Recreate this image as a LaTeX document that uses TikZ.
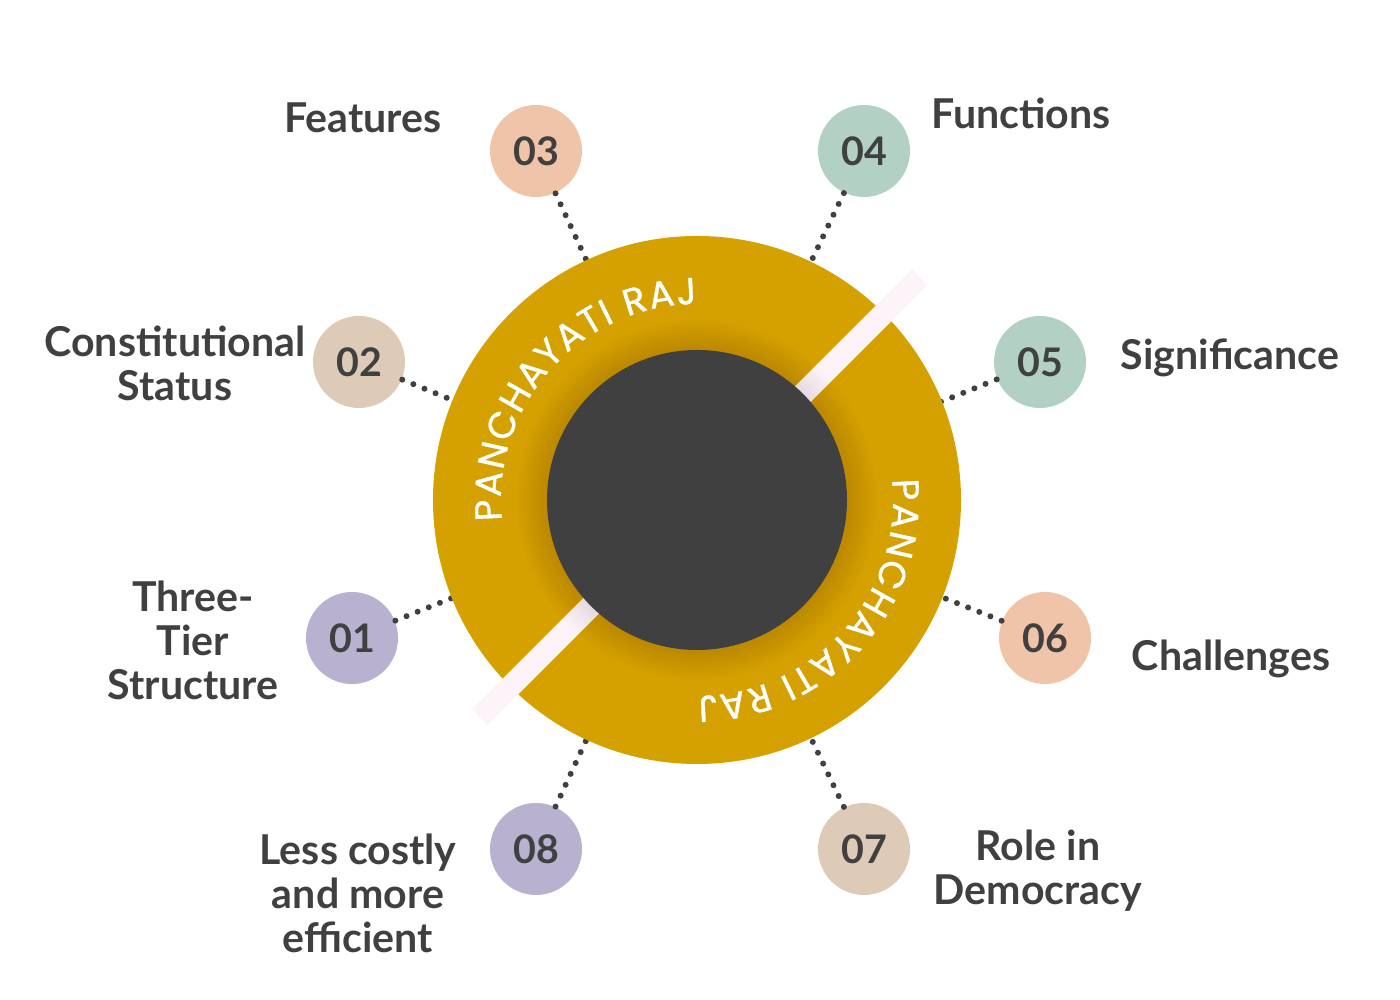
\documentclass[tikz,border=0pt]{standalone}
\usepackage{fontspec}
\setmainfont{Lato}
\newfontfamily\ringfont{Poppins}[FakeBold=0.9]
\usetikzlibrary{calc,decorations.text}
\definecolor{gold}{HTML}{D4A100}
\definecolor{ink}{HTML}{404040}
\definecolor{peach}{HTML}{F0C4A8}
\definecolor{sage}{HTML}{B2D0C4}
\definecolor{beige}{HTML}{DDCBB8}
\definecolor{lilac}{HTML}{B8B2D0}
\definecolor{stripe}{HTML}{FDF3F8}
\tikzset{
  num/.style={circle, minimum size=0.92cm, inner sep=0pt, text=ink, font=\bfseries\fontsize{11.2}{12}\selectfont},
  lbl/.style={text=ink, align=center, font=\bfseries\fontsize{11.7}{12.5}\selectfont},
  dotline/.style={ink, line width=0.06cm, line cap=round, dash pattern=on 0pt off 0.12cm},
  ringtext/.style={decorate, decoration={text along path, text color=white, text align={fit to path},
    text={|\ringfont\fontsize{10.6}{12}\selectfont|#1}}}
}
\begin{document}
\begin{tikzpicture}
			%%%%% START %%%%%
			\useasboundingbox[fill=white] (0, 0) rectangle (14, 10);
			\coordinate (ctr) at (6.97, 5.00);
			
			% numbered circles
			\node[num, fill=lilac] (n1) at (3.52, 3.62) {01};
			\node[num, fill=beige] (n2) at (3.59, 6.38) {02};
			\node[num, fill=peach] (n3) at (5.36, 8.49) {03};
			\node[num, fill=sage]  (n4) at (8.64, 8.49) {04};
			\node[num, fill=sage]  (n5) at (10.40, 6.38) {05};
			\node[num, fill=peach] (n6) at (10.45, 3.62) {06};
			\node[num, fill=beige] (n7) at (8.64, 1.51) {07};
			\node[num, fill=lilac] (n8) at (5.36, 1.51) {08};
			
			% dotted connectors to the ring
			\foreach \i in {1,...,8}{
				\coordinate (r\i) at ($(ctr)!2.62cm!(n\i)$);
				\draw[dotline] (n\i) -- (r\i);
			}
			
			% ring, stripe, shadow, core
			\fill[gold] (ctr) circle (2.64);
			\draw[stripe, line width=0.22cm] ($(ctr)+(225:3.07)$) -- ($(ctr)+(45:3.15)$);
			\foreach \i in {1,...,12}
				\fill[black, opacity=0.007] (ctr) circle ({1.50+0.025*\i});
			\fill[ink] (ctr) circle (1.50);
			
			\path[ringtext={PANCHAYATI RAJ}] ($(ctr)+(186:1.96)$) arc (186:90:1.96);
			\path[ringtext={PANCHAYATI RAJ}] ($(ctr)+(6:1.96)$) arc (6:-90:1.96);
			
			% labels
			\node[lbl] (l1) at (1.93, 3.60) {Three-\\Tier\\Structure};
			\node[lbl] (l2) at (1.75, 6.37) {Constitutional\\Status};
			\node[lbl] (l3) at (3.63, 8.82) {Features};
			\node[lbl] (l4) at (10.21, 8.87) {Functions};
			\node[lbl] (l5) at (12.30, 6.42) {Significance};
			\node[lbl] (l6) at (12.31, 3.41) {Challenges};
			\node[lbl] (l7) at (10.38, 1.29) {Role in\\Democracy};
			\node[lbl] (l8) at (3.58, 1.07) {Less costly\\and more\\efficient};
			%%%%% END %%%%%
\end{tikzpicture}
\end{document}
